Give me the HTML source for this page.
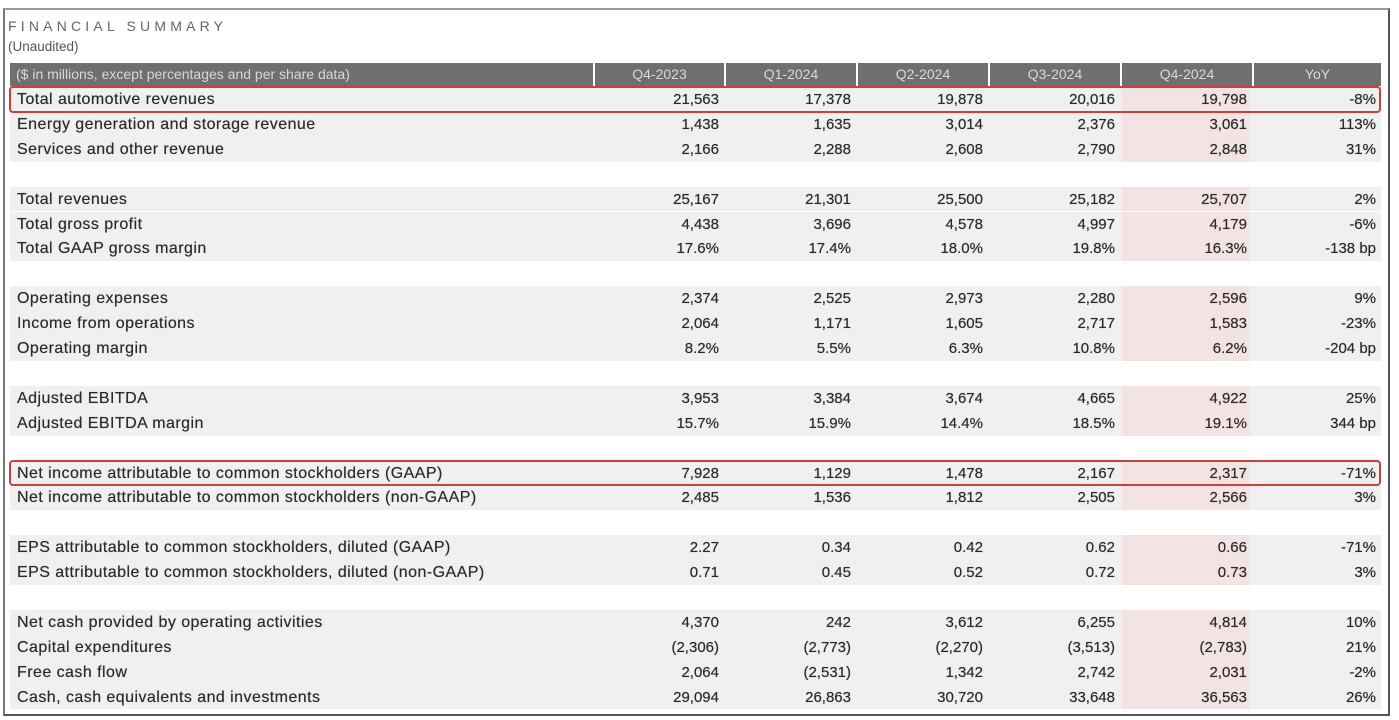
<!DOCTYPE html>
<html><head><meta charset="utf-8">
<style>
body{margin:0;width:1399px;height:720px;background:#fff;overflow:hidden;font-family:"Liberation Sans",sans-serif;position:relative}
.abs{position:absolute}
.cell{position:absolute;height:25px;line-height:25px;font-size:15px;color:#2a2a2a;white-space:nowrap;text-shadow:0 0 0.6px #555}
.lab{font-size:16px;letter-spacing:0.45px}
.num{text-align:right}
.hdr{position:absolute;top:63px;height:23px;line-height:23px;background:#6f6f6f;color:#d8d8d8;font-size:14px;text-align:center}
</style></head>
<body>
<div class="abs" style="left:3px;top:8px;width:1383px;height:704px;border:2px solid #555;border-top-color:#999;border-left-color:#777"></div>
<div class="abs" style="left:8px;top:18px;font-size:14px;letter-spacing:4.2px;color:#666">FINANCIAL SUMMARY</div>
<div class="abs" style="left:8px;top:39px;font-size:13.5px;color:#555">(Unaudited)</div>
<div id="tbl"></div>
<script>
const columns=["Q4-2023","Q1-2024","Q2-2024","Q3-2024","Q4-2024","YoY"];
const labels=["Total automotive revenues","Energy generation and storage revenue","Services and other revenue",null,
"Total revenues","Total gross profit","Total GAAP gross margin",null,
"Operating expenses","Income from operations","Operating margin",null,
"Adjusted EBITDA","Adjusted EBITDA margin",null,
"Net income attributable to common stockholders (GAAP)","Net income attributable to common stockholders (non-GAAP)",null,
"EPS attributable to common stockholders, diluted (GAAP)","EPS attributable to common stockholders, diluted (non-GAAP)",null,
"Net cash provided by operating activities","Capital expenditures","Free cash flow","Cash, cash equivalents and investments"];
const q42023=["21,563","1,438","2,166",null,"25,167","4,438","17.6%",null,"2,374","2,064","8.2%",null,"3,953","15.7%",null,"7,928","2,485",null,"2.27","0.71",null,"4,370","(2,306)","2,064","29,094"];
const q12024=["17,378","1,635","2,288",null,"21,301","3,696","17.4%",null,"2,525","1,171","5.5%",null,"3,384","15.9%",null,"1,129","1,536",null,"0.34","0.45",null,"242","(2,773)","(2,531)","26,863"];
const q22024=["19,878","3,014","2,608",null,"25,500","4,578","18.0%",null,"2,973","1,605","6.3%",null,"3,674","14.4%",null,"1,478","1,812",null,"0.42","0.52",null,"3,612","(2,270)","1,342","30,720"];
const q32024=["20,016","2,376","2,790",null,"25,182","4,997","19.8%",null,"2,280","2,717","10.8%",null,"4,665","18.5%",null,"2,167","2,505",null,"0.62","0.72",null,"6,255","(3,513)","2,742","33,648"];
const q42024=["19,798","3,061","2,848",null,"25,707","4,179","16.3%",null,"2,596","1,583","6.2%",null,"4,922","19.1%",null,"2,317","2,566",null,"0.66","0.73",null,"4,814","(2,783)","2,031","36,563"];
const yoy=["-8%","113%","31%",null,"2%","-6%","-138 bp",null,"9%","-23%","-204 bp",null,"25%","344 bp",null,"-71%","3%",null,"-71%","3%",null,"10%","21%","-2%","26%"];
const highlighted=[0,15];

const series=[q42023,q12024,q22024,q32024,q42024,yoy];
const colL=[595,726,858,990,1122,1254], colR=[724,856,988,1120,1252,1381];
const top0=87, rh=24.9;
const t=document.getElementById('tbl');
function mk(cls,style,txt){const d=document.createElement('div');d.className=cls;d.style.cssText=style;if(txt!=null)d.textContent=txt;t.appendChild(d);return d;}
let h=mk('hdr','left:10px;width:583px;text-align:left;padding-left:6px;box-sizing:border-box','($ in millions, except percentages and per share data)');


columns.forEach((c,i)=>{
  const e=mk('hdr','left:'+colL[i]+'px;width:'+(colR[i]-colL[i])+'px',c);
  
  
});
labels.forEach((lab,r)=>{
  if(lab===null)return;
  const y=top0+r*rh;
  const bg=mk('abs','left:10px;top:'+y+'px;width:1371px;height:'+rh+'px;background:#f0f0f0');
  
  
  const pk=mk('abs','left:1122px;top:'+y+'px;width:128px;height:'+rh+'px;background:#f4e3e3');
  
  
  const l=mk('cell lab','left:17px;top:'+y+'px',lab);
  
  
  series.forEach((s,i)=>{
    const v=mk('cell num','left:'+colL[i]+'px;width:'+(colR[i]-colL[i]-5)+'px;top:'+y+'px',s[r]);
    
    
  });
});
highlighted.forEach(r=>{
  const y=top0+r*rh;
  const b=mk('abs','left:9px;top:'+(y-1)+'px;width:1368px;height:'+(rh-2)+'px;border:2px solid #c9403c;border-radius:4px');
  
  
});
</script>
</body></html>
